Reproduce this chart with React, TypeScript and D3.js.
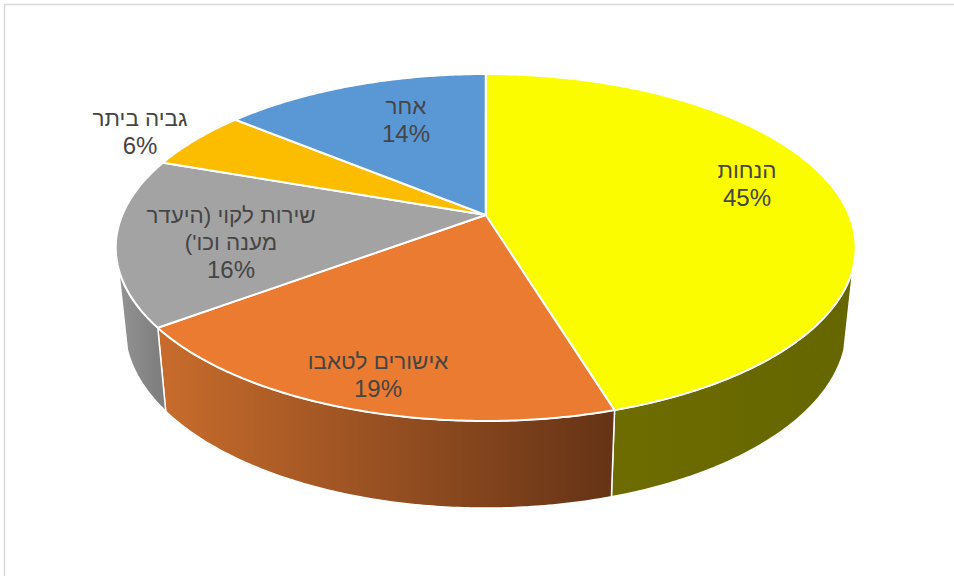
import React from "react";
import * as d3 from "d3";

// Share of each complaint category, clockwise from twelve o'clock.
const categories = ["הנחות", "אישורים לטאבו", "שירות לקוי (היעדר\nמענה וכו')", "גביה ביתר", "אחר"];
const shares = [45.3, 19.49, 15.6, 5.6, 14.01];
const faceColors = ["#fcfc00", "#ea7b31", "#a3a3a3", "#fcbd00", "#5a98d5"];
const sideStops = [
  ["#6c6c00", "#666600"],
  ["#c86c2c", "#653316"],
  ["#949494", "#7f7f7f"],
  ["#997300", "#997300"],
  ["#375f80", "#375f80"],
];
// Label anchors: centre x and the baseline of the first line.
const labelX = [747, 378, 231, 140, 406];
const labelY = [178, 369, 223, 126, 114];

const WIDTH = 954;
const HEIGHT = 576;
const TAU = Math.PI * 2;
const TILT = 0.1873; // perspective foreshortening of the disc plane

type Disc = { cx: number; cy: number; rx: number; ry: number };
const topDisc: Disc = { cx: 485.7, cy: 215, rx: 363.4, ry: 167.4 };
const bottomDisc: Disc = { cx: 485.7, cy: 294, rx: 354.6, ry: 174 };

// Only the part of the rim between these angles faces the viewer.
const RIM_START = (107.5 / 360) * TAU;
const RIM_END = (252.5 / 360) * TAU;

// Maps a clockwise angle from the top of the disc onto the screen.
function project(disc: Disc, angle: number): [number, number] {
  const x = Math.sin(angle);
  const y = -Math.cos(angle);
  const w = 1 - TILT * y;
  return [disc.cx + (disc.rx * x) / w, disc.cy + (disc.ry * y) / w];
}

function arcPoints(disc: Disc, a0: number, a1: number): [number, number][] {
  const steps = Math.max(2, Math.ceil(Math.abs(a1 - a0) / 0.01));
  return d3.range(steps + 1).map((i) => project(disc, a0 + ((a1 - a0) * i) / steps));
}

const pathLine = d3.line();

export default function App() {
  const slices = d3.pie<number>().sort(null).value((d) => d)(shares);

  return (
    <svg
      width={WIDTH}
      height={HEIGHT}
      viewBox={`0 0 ${WIDTH} ${HEIGHT}`}
      style={{ position: "absolute", left: 0, top: 0, background: "#ffffff" }}
    >
      <defs>
        {sideStops.map((stops, i) => {
          const s = slices[i];
          const a0 = Math.max(s.startAngle, RIM_START);
          const a1 = Math.min(s.endAngle, RIM_END);
          const xs = [project(topDisc, a0)[0], project(topDisc, a1)[0]];
          return (
            <linearGradient
              key={i}
              id={`rim-${i}`}
              gradientUnits="userSpaceOnUse"
              x1={d3.min(xs)}
              x2={d3.max(xs)}
              y1={0}
              y2={0}
            >
              <stop offset="0" stopColor={stops[0]} />
              <stop offset="1" stopColor={stops[1]} />
            </linearGradient>
          );
        })}
      </defs>

      {/* Frame around the chart area */}
      <path d={`M4.5 ${HEIGHT}V4.5H${WIDTH}`} fill="none" stroke="#d9d9d9" strokeWidth={1.5} />

      {/* Visible rim, drawn before the top face */}
      {slices.map((s, i) => {
        const a0 = Math.max(s.startAngle, RIM_START);
        const a1 = Math.min(s.endAngle, RIM_END);
        if (a1 <= a0) return null;
        const outline = [...arcPoints(topDisc, a0, a1), ...arcPoints(bottomDisc, a1, a0)];
        return (
          <path
            key={i}
            d={pathLine(outline) + "Z"}
            fill={`url(#rim-${i})`}
            stroke="#ffffff"
            strokeWidth={1.5}
            strokeLinejoin="round"
          />
        );
      })}

      {/* Top face */}
      {slices.map((s, i) => {
        const outline: [number, number][] = [
          [topDisc.cx, topDisc.cy],
          ...arcPoints(topDisc, s.startAngle, s.endAngle),
        ];
        return (
          <path
            key={i}
            d={pathLine(outline) + "Z"}
            fill={faceColors[i]}
            stroke="#ffffff"
            strokeWidth={2}
            strokeLinejoin="round"
          />
        );
      })}

      {/* Category names with rounded percentages */}
      {slices.map((s, i) => {
        const lines = [...categories[i].split("\n")];
        const percent = `${Math.round(s.value)}%`;
        return (
          <text
            key={i}
            textAnchor="middle"
            fill="#454545"
            fontFamily="'Liberation Sans', Arial, sans-serif"
          >
            {lines.map((line, j) => (
              <tspan
                key={j}
                x={labelX[i]}
                y={labelY[i] + j * 27}
                fontSize={22.4}
                style={{ direction: "rtl", unicodeBidi: "plaintext" }}
              >
                {line}
              </tspan>
            ))}
            <tspan x={labelX[i]} y={labelY[i] + lines.length * 27 + 0.5} fontSize={24}>
              {percent}
            </tspan>
          </text>
        );
      })}
    </svg>
  );
}
